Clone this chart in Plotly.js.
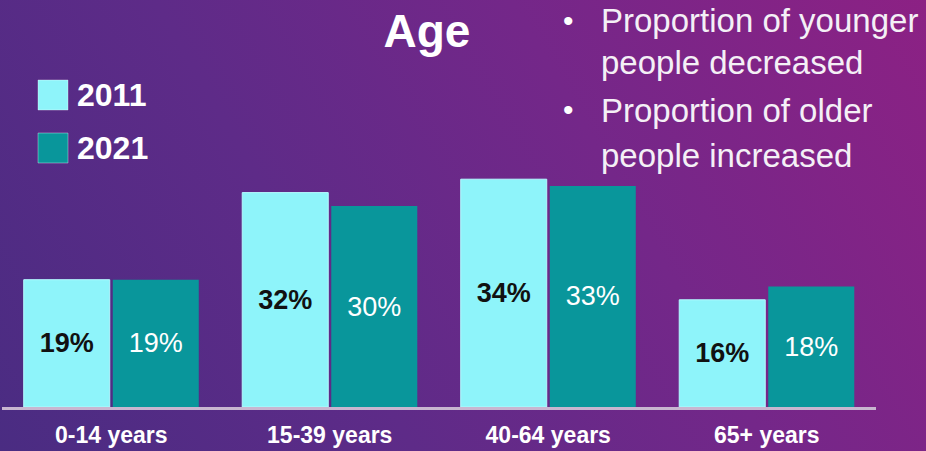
<!DOCTYPE html>
<html>
<head>
<meta charset="utf-8">
<script src="https://cdn.plot.ly/plotly-3.0.1.min.js"></script>
<style>
  html, body { margin: 0; padding: 0; }
  #chart {
    width: 926px; height: 451px;
    background: linear-gradient(60deg, #4a2c82 0%, #5e2b88 35%, #742789 65%, #8c2184 100%);
  }
</style>
</head>
<body>
<div id="chart"></div>
<script>
// ---- data ----
const categories = ["0-14 years", "15-39 years", "40-64 years", "65+ years"];
const values2011 = [19, 32, 34, 16];
const values2021 = [19, 30, 33, 18];
const seriesNames = ["2011", "2021"];
const titleText = "Age";
const bulletLines = [
  ["Proportion of younger", "people decreased"],
  ["Proportion of older", "people increased"]
];

// ---- styling ----
const FONT = "Liberation Sans, Arial, Helvetica, sans-serif";
const C2011 = "#8ef4fa";
const C2021 = "#09969b";
const W = 926, H = 451;
const M = {l: 2, r: 50, t: 139, b: 44};
const plotW = W - M.l - M.r, plotH = H - M.t - M.b;
const px = x => (x - M.l) / plotW;
const py = y => (H - M.b - y) / plotH;

const trace2011 = {
  type: "bar", name: seriesNames[0], x: categories, y: values2011,
  marker: {color: C2011, line: {color: "#b5fbff", width: 1}},
  text: values2011.map(v => v + "%"), textposition: "inside", insidetextanchor: "middle",
  textfont: {family: FONT, size: 27, color: "#111111", weight: "bold"},
  hoverinfo: "skip", cliponaxis: false
};
const trace2021 = {
  type: "bar", name: seriesNames[1], x: categories, y: values2021,
  marker: {color: C2021, line: {width: 0}},
  text: values2021.map(v => v + "%"), textposition: "inside", insidetextanchor: "middle",
  textfont: {family: FONT, size: 27, color: "#ffffff"},
  hoverinfo: "skip", cliponaxis: false
};

const annotations = [];
const shapes = [];

// legend (drawn manually for large swatches)
const legendItems = [
  {name: seriesNames[0], color: C2011, top: 80},
  {name: seriesNames[1], color: C2021, top: 133}
];
legendItems.forEach(it => {
  shapes.push({type: "rect", xref: "paper", yref: "paper",
    x0: px(38), x1: px(68), y0: py(it.top), y1: py(it.top + 30),
    fillcolor: it.color, line: {color: "rgba(255,255,255,0.35)", width: 1}});
  annotations.push({xref: "paper", yref: "paper", x: px(75), y: py(it.top + 15),
    xanchor: "left", yanchor: "middle", showarrow: false, text: it.name,
    font: {family: FONT, size: 32, color: "#ffffff", weight: "bold"}});
});

// bullet text
const lineY = [[21, 62], [110, 155]];
bulletLines.forEach((lines, i) => {
  annotations.push({xref: "paper", yref: "paper", x: px(568), y: py(lineY[i][0] - 1),
    xanchor: "center", yanchor: "middle", showarrow: false, text: "•",
    font: {family: FONT, size: 30, color: "#ffffff"}});
  lines.forEach((t, j) => {
    annotations.push({xref: "paper", yref: "paper", x: px(599), y: py(lineY[i][j]),
      xanchor: "left", yanchor: "middle", showarrow: false, text: t,
      font: {family: FONT, size: 33, color: "#f4f0f6"}});
  });
});

const layout = {
  width: W, height: H,
  margin: M,
  paper_bgcolor: "rgba(0,0,0,0)",
  plot_bgcolor: "rgba(0,0,0,0)",
  showlegend: false,
  barmode: "group",
  bargap: 0.185,
  bargroupgap: 0.034,
  title: {
    text: "<b>" + titleText + "</b>",
    font: {family: FONT, size: 46, color: "#ffffff"},
    x: 427 / W, xanchor: "center", xref: "container",
    y: 1 - 31 / H, yanchor: "middle", yref: "container"
  },
  xaxis: {
    type: "category",
    showline: true, linecolor: "#c8b6d0", linewidth: 3,
    showgrid: false, zeroline: false, ticks: "",
    ticklabelstandoff: 5,
    tickfont: {family: FONT, size: 23, color: "#ffffff", weight: "bold"},
    fixedrange: true
  },
  yaxis: {
    range: [0, 40], visible: false, showgrid: false, zeroline: false, fixedrange: true
  },
  annotations: annotations,
  shapes: shapes,
  uniformtext: {mode: false}
};

Plotly.newPlot("chart", [trace2011, trace2021], layout, {displayModeBar: false, staticPlot: true});
</script>
</body>
</html>
